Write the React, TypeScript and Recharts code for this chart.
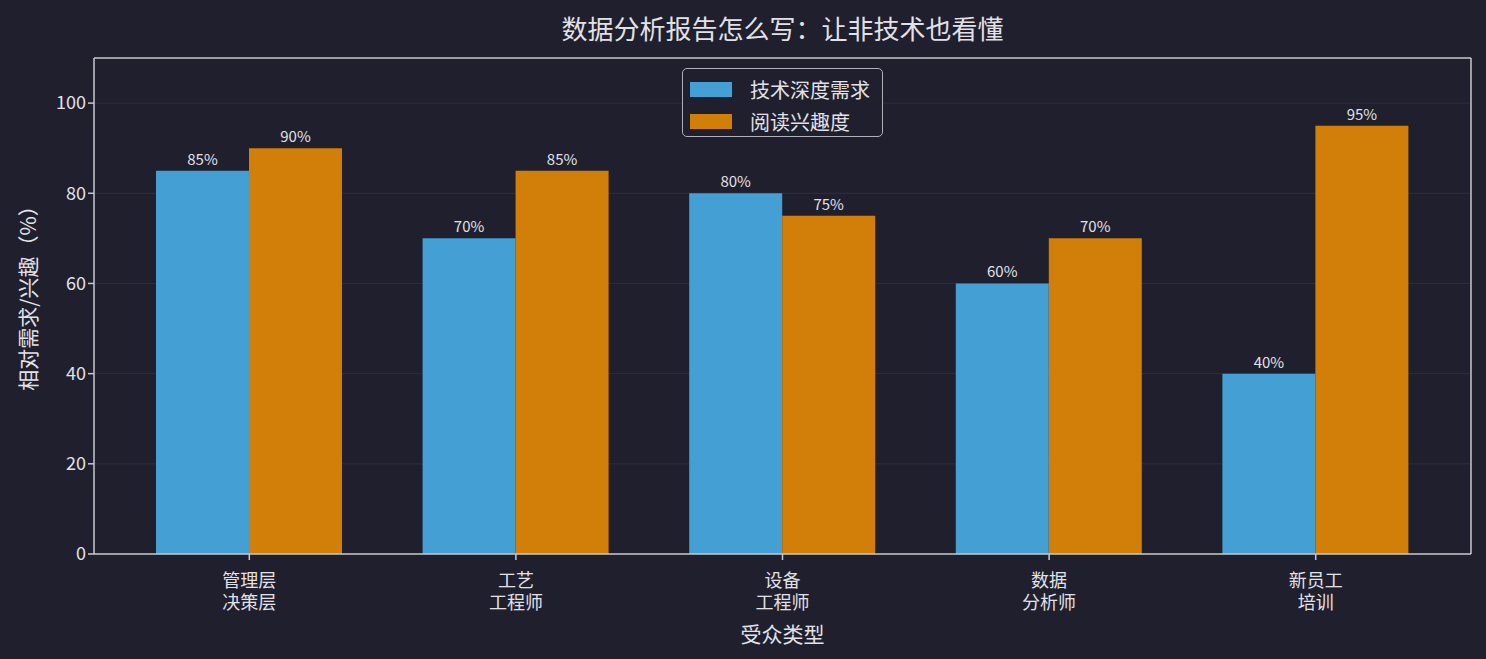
import React from 'react';
import {
    BarChart,
    Bar,
    XAxis,
    YAxis,
    CartesianGrid,
    LabelList,
} from 'recharts';

// audience groups (line break inside the tick label)
const audiences = ['管理层\n决策层', '工艺\n工程师', '设备\n工程师', '数据\n分析师', '新员工\n培训'];
const techDepth = [85, 70, 80, 60, 40];
const readInterest = [90, 85, 75, 70, 95];
const yTicks = [0, 20, 40, 60, 80, 100];

const seriesNames = ['技术深度需求', '阅读兴趣度'];
const seriesColors = ['#449fd5', '#d17f08'];

const BG = '#1f1f2e';
const TEXT = '#e2e2e6';
const SPINE = '#c8c8cc';
const FONT = '"Noto Sans CJK SC", "Noto Sans", sans-serif';

const chartData = audiences.map((name, i) => ({
    name,
    tech: techDepth[i],
    interest: readInterest[i],
}));

function AudienceTick(props: any) {
    const { x, y, payload } = props;
    const lines = String(payload.value).split('\n');
    return (
        <g>
            {lines.map((line, i) => (
                <text key={i} x={x} y={y + 25 + i * 22} textAnchor="middle" fill={TEXT} fontSize={18} fontFamily={FONT}>
                    {line}
                </text>
            ))}
        </g>
    );
}

export default function App() {
    return (
        <div style={{ position: 'fixed', left: 0, top: 0, width: 1486, height: 659, background: BG, fontFamily: FONT }}>
            <div style={{ position: 'absolute', left: 94, width: 1377, top: 9, textAlign: 'center', color: TEXT, fontSize: 26, lineHeight: '38px' }}>
                数据分析报告怎么写：让非技术也看懂
            </div>
            <BarChart
                width={1486}
                height={659}
                data={chartData}
                margin={{ top: 57, right: 14, bottom: 45, left: 34 }}
                barCategoryGap="15%"
                barGap={0}
            >
                <XAxis
                    dataKey="name"
                    interval={0}
                    height={60}
                    padding={{ left: 22, right: 22 }}
                    tick={<AudienceTick />}
                    tickSize={6}
                    axisLine={{ stroke: SPINE, strokeWidth: 1.5 }}
                    tickLine={{ stroke: SPINE, strokeWidth: 1.5 }}
                />
                <XAxis xAxisId="top" orientation="top" dataKey="name" height={1} tick={false} tickLine={false}
                    axisLine={{ stroke: SPINE, strokeWidth: 1.5 }} />
                <YAxis
                    domain={[0, 110]}
                    ticks={yTicks}
                    width={60}
                    tickSize={6}
                    tick={{ fill: TEXT, fontSize: 18, fontFamily: FONT }}
                    axisLine={{ stroke: SPINE, strokeWidth: 1.5 }}
                    tickLine={{ stroke: SPINE, strokeWidth: 1.5 }}
                />
                <YAxis yAxisId="right" orientation="right" domain={[0, 110]} width={1} tick={false} tickLine={false}
                    axisLine={{ stroke: SPINE, strokeWidth: 1.5 }} />
                <Bar dataKey="tech" name={seriesNames[0]} fill={seriesColors[0]} isAnimationActive={false}>
                    <LabelList dataKey="tech" position="top" offset={6} fill={TEXT} fontSize={15} fontFamily={FONT}
                        formatter={(v: any) => `${v}%`} />
                </Bar>
                <Bar dataKey="interest" name={seriesNames[1]} fill={seriesColors[1]} isAnimationActive={false}>
                    <LabelList dataKey="interest" position="top" offset={6} fill={TEXT} fontSize={15} fontFamily={FONT}
                        formatter={(v: any) => `${v}%`} />
                </Bar>
                <CartesianGrid vertical={false} horizontalValues={yTicks} stroke="#3c3c4e" strokeOpacity={0.5} zIndex={1} />
            </BarChart>

            {/* legend */}
            <div style={{
                position: 'absolute', left: 682, top: 68, width: 199, height: 67,
                border: '1.5px solid #b0b0b8', borderRadius: 5, background: BG,
            }}>
                {seriesNames.map((n, i) => (
                    <div key={n} style={{ position: 'absolute', left: 7, top: 7 + i * 32, display: 'flex', alignItems: 'center', height: 26 }}>
                        <div style={{ width: 42, height: 15, background: seriesColors[i] }} />
                        <span style={{ marginLeft: 18, color: TEXT, fontSize: 20 }}>{n}</span>
                    </div>
                ))}
            </div>

            <div style={{ position: 'absolute', left: 94, width: 1377, top: 618, textAlign: 'center', color: TEXT, fontSize: 21, lineHeight: '30px' }}>
                受众类型
            </div>
            <div style={{
                position: 'absolute', left: 27, top: 293, transform: 'translate(-50%, -50%) rotate(-90deg)',
                whiteSpace: 'nowrap', color: TEXT, fontSize: 21,
            }}>
                相对需求/兴趣（%）
            </div>
        </div>
    );
}
